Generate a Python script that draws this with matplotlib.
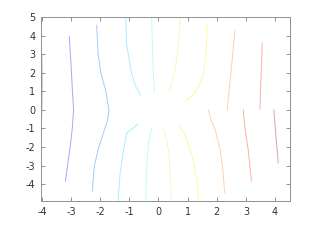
import numpy as np
import matplotlib
matplotlib.use("Agg")
import matplotlib.pyplot as plt

# contour curves: (level index, x values, y values)
levels = list(range(10))

a_x = [-4.00, -3.99, -4.00, -4.03, -4.07]
a_y = [3.0, 1.5, 0.0, -1.5, -3.0]
b_x = [-3.06, -3.00, -2.95, -2.91, -2.96, -3.04, -3.12, -3.19]
b_y = [3.96, 2.5, 1.0, 0.0, -1.07, -2.14, -3.0, -3.83]
c_x = [-2.12, -2.07, -1.97, -1.80, -1.70, -1.74, -1.89, -2.07, -2.20, -2.27]
c_y = [4.55, 3.03, 1.96, 0.98, 0.0, -0.53, -1.25, -2.14, -3.03, -4.37]
d_up_x = [-1.15, -1.12, -1.09, -0.95, -0.78, -0.61]
d_up_y = [5.2, 4.9, 3.57, 2.14, 1.25, 0.8]
d_lo_x = [-0.70, -0.85, -1.09, -1.22, -1.32, -1.38, -1.40]
d_lo_y = [-0.75, -0.95, -1.25, -2.4, -3.5, -4.8, -5.2]
e_up_x = [-0.24, -0.23, -0.20, -0.17, -0.14]
e_up_y = [5.2, 4.9, 3.0, 1.8, 1.0]
e_lo_x = [-0.23, -0.32, -0.38, -0.42, -0.44]
e_lo_y = [-0.98, -1.6, -2.5, -4.0, -5.2]
f_up_x = [0.76, 0.75, 0.69, 0.57, 0.38]
f_up_y = [5.2, 4.9, 3.57, 2.14, 0.98]
f_lo_x = [0.17, 0.28, 0.37, 0.42, 0.44]
f_lo_y = [-0.98, -1.6, -2.5, -4.0, -5.2]
g_up_x = [1.67, 1.64, 1.55, 1.32, 1.10, 0.92]
g_up_y = [4.63, 3.2, 1.96, 1.07, 0.7, 0.45]
g_lo_x = [0.69, 0.90, 1.15, 1.30, 1.38, 1.40]
g_lo_y = [-0.8, -1.3, -2.4, -3.6, -4.8, -5.2]
h_up_x = [2.62, 2.53, 2.44, 2.36]
h_up_y = [4.24, 2.67, 1.3, 0.0]
h_lo_x = [1.72, 1.80, 1.95, 2.12, 2.21, 2.27]
h_lo_y = [0.0, -0.53, -1.07, -2.14, -3.2, -4.45]
i_up_x = [3.56, 3.52, 3.48]
i_up_y = [3.57, 1.8, 0.05]
i_lo_x = [2.91, 2.97, 3.08, 3.19]
i_lo_y = [0.0, -1.0, -2.14, -3.83]
j_x = [3.96, 4.03, 4.11]
j_y = [0.0, -1.4, -2.85]

curves = [
    (0, a_x, a_y), (1, b_x, b_y), (2, c_x, c_y),
    (3, d_up_x, d_up_y), (3, d_lo_x, d_lo_y),
    (4, e_up_x, e_up_y), (4, e_lo_x, e_lo_y),
    (5, f_up_x, f_up_y), (5, f_lo_x, f_lo_y),
    (6, g_up_x, g_up_y), (6, g_lo_x, g_lo_y),
    (7, h_up_x, h_up_y), (7, h_lo_x, h_lo_y),
    (8, i_up_x, i_up_y), (8, i_lo_x, i_lo_y),
    (9, j_x, j_y),
]

x_ticks = [-4, -3, -2, -1, 0, 1, 2, 3, 4]
y_ticks = [-4, -3, -2, -1, 0, 1, 2, 3, 4, 5]

plt.rcParams['axes.unicode_minus'] = False
fig = plt.figure(figsize=(3.2, 2.4), dpi=100)
ax = fig.add_axes([0.128, 0.1625, 0.777, 0.767])

cmap = plt.get_cmap('jet')
for lev, xs, ys in curves:
    ax.plot(xs, ys, color=cmap(lev / (len(levels) - 1)), alpha=0.35, lw=0.7)

ax.set_xlim(-4.03, 4.5)
ax.set_ylim(-4.9, 5)
ax.set_xticks(x_ticks)
ax.set_yticks(y_ticks)
ax.tick_params(direction='in', top=True, right=True, length=3, width=0.6,
               color='#808080', labelsize=7, labelcolor='#333333', pad=4)
for s in ax.spines.values():
    s.set_color('#909090')
    s.set_linewidth(0.7)

fig.savefig("out.png", dpi=100)
plt.close()
